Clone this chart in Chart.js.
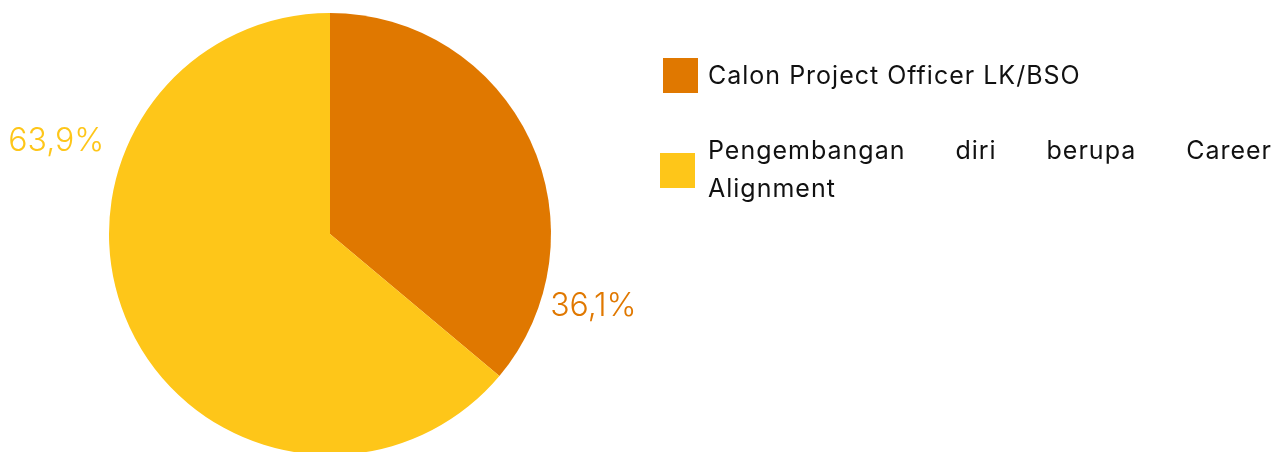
<!DOCTYPE html>
<html>
<head>
<meta charset="utf-8">
<script src="https://cdn.jsdelivr.net/npm/chart.js@4.4.1/dist/chart.umd.min.js"></script>
<style>
  html, body { margin: 0; padding: 0; background: #fff; }
  #wrap { position: relative; width: 1286px; height: 452px; overflow: hidden; }
  #pie { position: absolute; left: 0; top: 0; }
  .leg { position: absolute; font-family: Inter, "Noto Sans", sans-serif; font-size: 25px; letter-spacing: 1px; color: #111; }
  .box { position: absolute; width: 35px; height: 35px; }
  .txt { position: absolute; left: 708px; width: 564px; line-height: 38px; text-align: justify; text-align-last: left; }
</style>
</head>
<body>
<div id="wrap">
  <canvas id="pie" width="1286" height="460"></canvas>
  <div class="leg" id="legend"></div>
</div>
<script>
(function(){
    const categories = ["Calon Project Officer LK/BSO", "Pengembangan diri berupa Career Alignment"];
    const shares = [36.1, 63.9];
    const shareLabels = ["36,1%", "63,9%"];
    const colors = ["#E07800", "#FEC619"];

    // where each label sits: fraction along the slice, distance outside the rim
    const labelSpot = [{f: 0.81, off: 52}, {f: 0.69, off: 68}];

    // legend, drawn as html so the long entry can wrap justified
    const legendRows = [{boxX: 663, boxY: 58, txtY: 56}, {boxX: 660, boxY: 153, txtY: 131}];
    const legend = document.getElementById("legend");
    categories.forEach((c, i) => {
        const r = legendRows[i];
        const b = document.createElement("div");
        b.className = "box";
        b.style.left = r.boxX + "px";
        b.style.top = r.boxY + "px";
        b.style.background = colors[i];
        legend.appendChild(b);
        const t = document.createElement("div");
        t.className = "txt";
        t.style.top = r.txtY + "px";
        t.textContent = c;
        legend.appendChild(t);
    });

    const pctLabels = {
        id: "pctLabels",
        afterDatasetsDraw(chart) {
            const ctx = chart.ctx;
            const arcs = chart.getDatasetMeta(0).data;
            ctx.save();
            ctx.font = "300 32px Inter, 'Noto Sans', sans-serif";
            ctx.textAlign = "center";
            ctx.textBaseline = "middle";
            arcs.forEach((arc, i) => {
                const p = arc.getProps(["x", "y", "startAngle", "endAngle", "outerRadius"], true);
                const a = p.startAngle + labelSpot[i].f * (p.endAngle - p.startAngle);
                const r = p.outerRadius + labelSpot[i].off;
                ctx.fillStyle = colors[i];
                ctx.fillText(shareLabels[i], p.x + Math.cos(a) * r, p.y + Math.sin(a) * r);
            });
            ctx.restore();
        }
    };

    new Chart(document.getElementById("pie"), {
        type: "pie",
        data: {
            labels: categories,
            datasets: [{
                data: shares,
                backgroundColor: colors,
                borderWidth: 0
            }]
        },
        options: {
            responsive: false,
            animation: false,
            layout: { padding: { left: 109, right: 735, top: 13, bottom: 5 } },
            plugins: {
                legend: { display: false },
                tooltip: { enabled: false }
            }
        },
        plugins: [pctLabels]
    });
})()
</script>
</body>
</html>
